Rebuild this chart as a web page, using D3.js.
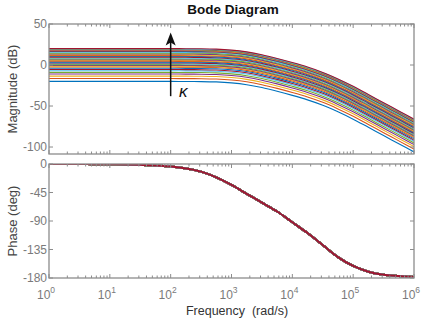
<!DOCTYPE html>
<html>
<head>
<meta charset="utf-8">
<script src="https://cdn.jsdelivr.net/npm/d3@7"></script>
<style>
  body { margin: 0; background: #fff; }
  text { font-family: "Liberation Sans", Arial, sans-serif; }
</style>
</head>
<body>
<div id="chart"></div>
<script>
// frequency grid, as powers of ten (rad/s)
const freqExp = [0, 0.25, 0.5, 0.75, 1, 1.25, 1.5, 1.75, 2, 2.25, 2.5, 2.75, 3, 3.25, 3.5, 3.75, 4, 4.25, 4.5, 4.75, 5, 5.25, 5.5, 5.75, 6];
// magnitude shape of the 0 dB curve
const magBase = [0, 0, 0, 0, 0, 0, 0, 0, 0, -0.1, -0.2, -0.6, -1.8, -4, -7.5, -12, -17, -22.5, -29, -37, -46, -56, -66, -76, -86];
// phase (deg), same for every gain
const phaseDeg = [0, -0.1, -0.1, -0.2, -0.4, -0.7, -1.3, -2.2, -4, -7, -12, -21, -33, -47, -61, -75, -92, -109, -128, -147, -161, -170, -175, -177, -178.5];
// dc level of each curve (dB), one per value of kappa
const gainDb = [-20, -16.5, -13.5, -11, -9, -7, -5.5, -4, -2.5, -1.5, -0.5, 0.5, 1.5, 2.5, 3.5, 4.5, 5.5, 6.5, 7.5, 8.5,
  9.5, 10.5, 11.5, 12.5, 13.5, 14.5, 15.5, 16.5, 17, 17.5, 18, 18.5, 19, 19.5, 20];
const lineColors = ["#0072BD", "#D95319", "#EDB120", "#7E2F8E", "#77AC30", "#4DBEEE", "#A2142F"];
const magTicks = [50, 0, -50, -100];
const phaseTicks = [0, -45, -90, -135, -180];
const decades = [0, 1, 2, 3, 4, 5, 6];

const W = 427, H = 322;
const left = 49, right = 414;
const magTop = 24, magBottom = 154;
const phTop = 164, phBottom = 278;
const axisGray = "#8c8c8c";

const svg = d3.select("#chart").append("svg")
  .attr("width", W).attr("height", H);

const x = d3.scaleLog().domain([1, 1e6]).range([left, right]);
const yMag = d3.scaleLinear().domain([-108.5, 50]).range([magBottom, magTop]);
const yPh = d3.scaleLinear().domain([-180, 0]).range([phBottom, phTop]);

svg.append("defs").selectAll("clipPath")
  .data([["clipMag", magTop, magBottom], ["clipPh", phTop, phBottom]])
  .enter().append("clipPath").attr("id", d => d[0])
  .append("rect").attr("x", left).attr("y", d => d[1])
  .attr("width", right - left).attr("height", d => d[2] - d[1]);

// magnitude curves
const magLine = d3.line()
  .x((d, i) => x(Math.pow(10, freqExp[i])))
  .y(d => yMag(d))
  .curve(d3.curveMonotoneX);

svg.append("g").attr("clip-path", "url(#clipMag)")
  .selectAll("path").data(gainDb).enter().append("path")
  .attr("d", g => magLine(magBase.map(m => m + g)))
  .attr("fill", "none")
  .attr("stroke", (g, i) => lineColors[i % lineColors.length])
  .attr("stroke-width", 1.1);

// phase curves (all identical, last one on top)
const phLine = d3.line()
  .x((d, i) => x(Math.pow(10, freqExp[i])))
  .y(d => yPh(d))
  .curve(d3.curveMonotoneX);

svg.append("g").attr("clip-path", "url(#clipPh)")
  .selectAll("path").data(gainDb).enter().append("path")
  .attr("d", phLine(phaseDeg))
  .attr("fill", "none")
  .attr("stroke", (g, i) => lineColors[i % lineColors.length])
  .attr("stroke-width", 2);

// boxes with ticks on all four sides
function drawBox(top, bottom, yScale, yTicks) {
  const g = svg.append("g");
  x.ticks().forEach(v => {
    const isMajor = Math.abs(Math.log10(v) - Math.round(Math.log10(v))) < 1e-9;
    const len = isMajor ? 4 : 2.5;
    g.append("line").attr("x1", x(v)).attr("x2", x(v)).attr("y1", bottom).attr("y2", bottom - len)
      .attr("stroke", axisGray).attr("stroke-width", 1);
    g.append("line").attr("x1", x(v)).attr("x2", x(v)).attr("y1", top).attr("y2", top + len)
      .attr("stroke", axisGray).attr("stroke-width", 1);
  });
  yTicks.forEach(v => {
    g.append("line").attr("x1", left).attr("x2", left + 4).attr("y1", yScale(v)).attr("y2", yScale(v))
      .attr("stroke", axisGray);
    g.append("line").attr("x1", right).attr("x2", right - 4).attr("y1", yScale(v)).attr("y2", yScale(v))
      .attr("stroke", axisGray);
    g.append("text").attr("x", left - 2).attr("y", yScale(v)).attr("dy", "0.35em")
      .attr("text-anchor", "end").attr("font-size", 12).attr("fill", "#7a7a7a")
      .text(v);
  });
  g.append("rect").attr("x", left).attr("y", top).attr("width", right - left).attr("height", bottom - top)
    .attr("fill", "none").attr("stroke", axisGray).attr("stroke-width", 1.3);
}
drawBox(magTop, magBottom, yMag, magTicks);
drawBox(phTop, phBottom, yPh, phaseTicks);

// decade labels
const xl = svg.append("g").selectAll("text").data(decades).enter().append("text")
  .attr("x", d => x(Math.pow(10, d)) - 3)
  .attr("y", 299)
  .attr("text-anchor", "middle")
  .attr("font-size", 12)
  .attr("fill", "#7a7a7a");
xl.append("tspan").text("10");
xl.append("tspan").attr("dy", -6).attr("font-size", 8.5).text(d => d);

// titles and labels
svg.append("text").attr("x", 233).attr("y", 14).attr("text-anchor", "middle")
  .attr("font-size", 13.5).attr("font-weight", "bold").attr("fill", "#111").text("Bode Diagram");
svg.append("text").attr("x", 237).attr("y", 315).attr("text-anchor", "middle")
  .attr("font-size", 12.5).attr("fill", "#333").attr("xml:space", "preserve").text("Frequency  (rad/s)");
svg.append("text").attr("transform", "translate(17," + ((magTop + magBottom) / 2) + ") rotate(-90)")
  .attr("text-anchor", "middle").attr("font-size", 13).attr("fill", "#444").text("Magnitude (dB)");
svg.append("text").attr("transform", "translate(17," + ((phTop + phBottom) / 2) + ") rotate(-90)")
  .attr("text-anchor", "middle").attr("font-size", 13).attr("fill", "#444").text("Phase (deg)");

// kappa arrow
const ax = x(100), tipY = yMag(39.5), baseY = yMag(-38);
svg.append("line")
  .attr("x1", ax).attr("x2", ax)
  .attr("y1", baseY).attr("y2", tipY + 8)
  .attr("stroke", "#111").attr("stroke-width", 1.5);
svg.append("path")
  .attr("d", "M" + ax + "," + tipY + " L" + (ax + 5) + "," + (tipY + 13) +
    " L" + ax + "," + (tipY + 10) + " L" + (ax - 5) + "," + (tipY + 13) + " Z")
  .attr("fill", "#111");
svg.append("text").attr("x", 179).attr("y", 97)
  .attr("font-family", "'Liberation Serif', 'Times New Roman', serif")
  .attr("font-style", "italic").attr("font-size", 17).attr("fill", "#111").text("κ");
</script>
</body>
</html>
